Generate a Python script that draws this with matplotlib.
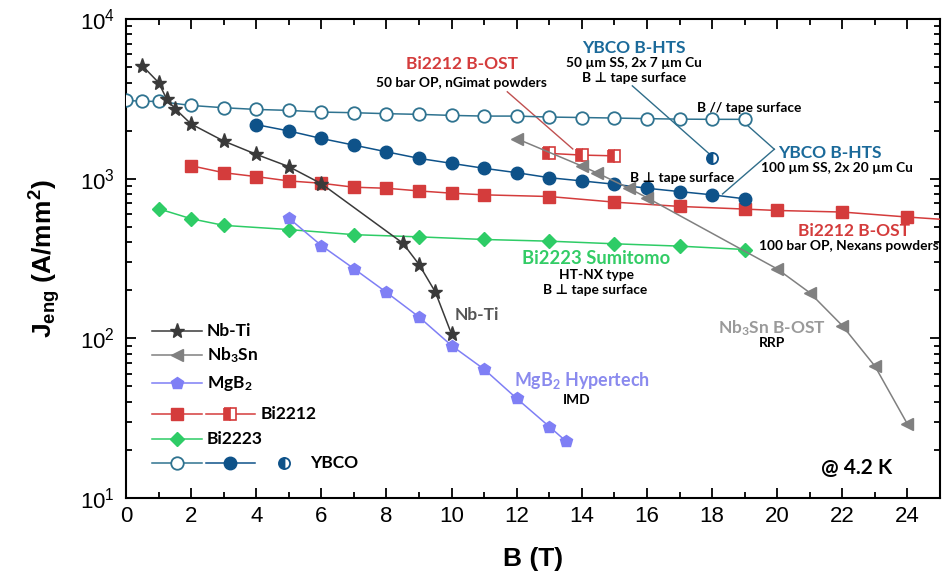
import math
import matplotlib
matplotlib.use("Agg")
import matplotlib.pyplot as plt
import matplotlib.ticker as mticker
from matplotlib.font_manager import fontManager

plt.rcParams['font.family'] = ['Lato', 'DejaVu Sans']
plt.rcParams['font.weight'] = 'bold'
plt.rcParams['mathtext.fontset'] = 'custom'
plt.rcParams['mathtext.rm'] = 'Lato:bold'
plt.rcParams['mathtext.it'] = 'Lato:bold'
plt.rcParams['mathtext.bf'] = 'Lato:bold'

names = {f.name for f in fontManager.ttflist}
tick_font = 'Liberation Sans Narrow' if 'Liberation Sans Narrow' in names else 'Liberation Sans'

# ---------------- data ----------------
nbti_B = [0.5, 1, 1.25, 1.5, 2, 3, 4, 5, 6, 8.5, 9, 9.5, 10]
nbti_J = [5100, 4000, 3150, 2750, 2200, 1720, 1420, 1190, 930, 395, 290, 195, 106]

nb3sn_B = [12, 14, 14.45, 15.45, 16, 20, 21, 22, 23, 24]
nb3sn_J = [1780, 1200, 1090, 870, 760, 272, 193, 120, 67, 29]

mgb2_B = [5, 6, 7, 8, 9, 10, 11, 12, 13, 13.5]
mgb2_J = [566, 381, 273, 194, 136, 90, 64, 42, 28, 22.8]

bi2212_B = [2, 3, 4, 5, 6, 7, 8, 9, 10, 11, 13, 15, 17, 19, 20, 22, 24, 26]
bi2212_J = [1205, 1090, 1030, 968, 936, 884, 871, 838, 811, 792, 773, 713, 670,
            645, 632, 618, 575, 540]

bi2212b_B = [13, 14, 15]
bi2212b_J = [1440, 1405, 1390]

bi2223_B = [1, 2, 3, 5, 7, 9, 11, 13, 15, 17, 19]
bi2223_J = [648, 561, 510, 480, 446, 432, 416, 406, 391, 378, 360]

ybco_par_B = [0, 0.5, 1, 2, 3, 4, 5, 6, 7, 8, 9, 10, 11, 12, 13, 14, 15, 16, 17, 18, 19]
ybco_par_J = [3090, 3055, 3046, 2874, 2782, 2714, 2677, 2612, 2589, 2553, 2528,
              2490, 2466, 2466, 2432, 2415, 2397, 2377, 2360, 2353, 2353]

ybco_perp_B = [4, 5, 6, 7, 8, 9, 10, 11, 12, 13, 14, 15, 16, 17, 18, 19]
ybco_perp_J = [2180, 1990, 1785, 1622, 1473, 1340, 1247, 1161, 1090, 1014, 968,
               923, 871, 830, 792, 748]

ybco_thin_B = [18]
ybco_thin_J = [1340]

# colours
c_nbti = '#3a3a3a'
c_nb3sn = '#808080'
c_mgb2 = '#7f7ff5'
c_bi2212 = '#d43c3c'
c_bi2223 = '#2ecc66'
c_ybco = '#0e5289'
c_ybco_line = '#2f7390'

fig = plt.figure(figsize=(9.46, 5.83), dpi=100)
ax = fig.add_axes([0.1332, 0.1458, 0.8605, 0.8216])

lw = 1.1
ax.plot(nbti_B, nbti_J, '-', color=c_nbti, lw=lw, marker='*', ms=11, mfc=c_nbti, mec=c_nbti, zorder=5)
ax.plot(nb3sn_B, nb3sn_J, '-', color=c_nb3sn, lw=lw, marker='<', ms=9, mfc=c_nb3sn, mec=c_nb3sn, zorder=4)
ax.plot(mgb2_B, mgb2_J, '-', color=c_mgb2, lw=lw, marker='p', ms=9, mfc=c_mgb2, mec=c_mgb2, zorder=4)
ax.plot(bi2212_B, bi2212_J, '-', color=c_bi2212, lw=lw, marker='s', ms=8, mfc=c_bi2212, mec=c_bi2212, zorder=3)
ax.plot(bi2212b_B, bi2212b_J, '-', color=c_bi2212, lw=lw, marker='s', ms=8, mfc=c_bi2212,
        mec=c_bi2212, fillstyle='left', markerfacecoloralt='white', mew=1.2, zorder=3)
ax.plot(bi2223_B, bi2223_J, '-', color=c_bi2223, lw=lw, marker='D', ms=7.5, mfc=c_bi2223, mec=c_bi2223, zorder=3)
ax.plot(ybco_par_B, ybco_par_J, '-', color=c_ybco_line, lw=lw, marker='o', ms=9, mfc='white',
        mec=c_ybco_line, mew=1.3, zorder=3)
ax.plot(ybco_perp_B, ybco_perp_J, '-', color=c_ybco, lw=lw, marker='o', ms=9, mfc=c_ybco, mec=c_ybco, zorder=3)
ax.plot(ybco_thin_B, ybco_thin_J, 'none', marker='o', ms=8, mfc=c_ybco, mec=c_ybco,
        fillstyle='left', markerfacecoloralt='white', mew=1.3, zorder=3)

ax.set_yscale('log')
ax.set_xlim(0, 25)
ax.set_ylim(10, 10000)

ax.xaxis.set_major_locator(mticker.MultipleLocator(2))
ax.xaxis.set_minor_locator(mticker.MultipleLocator(1))
ax.yaxis.set_major_locator(mticker.LogLocator(base=10, numticks=10))
ax.yaxis.set_minor_locator(mticker.LogLocator(base=10, subs=range(2, 10), numticks=20))
ax.yaxis.set_major_formatter(mticker.FuncFormatter(lambda v, p: r'$\mathregular{10^{%d}}$' % round(math.log10(v))))
ax.yaxis.set_minor_formatter(mticker.NullFormatter())
ax.tick_params(which='both', direction='in', top=True, right=True, width=1.3)
ax.tick_params(which='major', length=7)
ax.tick_params(axis='x', which='major', pad=6)
ax.tick_params(axis='y', which='major', pad=8)
ax.tick_params(which='minor', length=4)
for lab in ax.get_xticklabels():
    lab.set_fontfamily(tick_font)
    lab.set_fontweight('normal')
    lab.set_fontsize(16)
for lab in ax.get_yticklabels():
    lab.set_fontfamily('Liberation Sans')
    lab.set_fontweight('normal')
    lab.set_fontsize(16)
for s in ax.spines.values():
    s.set_linewidth(1.5)

ax.set_xlabel('B (T)', fontsize=19, fontweight='bold', labelpad=14, family=['Liberation Sans Narrow', 'Liberation Sans'])
ax.set_ylabel(r'J$_{\mathregular{eng}}$ (A/mm$^{\mathregular{2}}$)', fontsize=19, fontweight='bold',
              labelpad=12, family=['Liberation Sans', 'DejaVu Sans'])

# ---------------- annotations ----------------
big = 12.5
small = 9.9

def txt(x, y, s, color='black', size=small, ha='center'):
    ax.text(x, y, s, color=color, fontsize=size, fontweight='bold', ha=ha, va='center',
            family=['Lato', 'DejaVu Sans'])

txt(10.31, 5236, 'Bi2212 B-OST', c_bi2212, big)
txt(10.31, 3981, '50 bar OP, nGimat powders')
txt(15.61, 6592, 'YBCO B-HTS', '#1b6a9a', big)
txt(15.61, 5309, '50 µm SS, 2x 7 µm Cu')
txt(15.61, 4276, 'B ⊥ tape surface')
txt(19.14, 2780, 'B // tape surface')
txt(21.6, 1454, 'YBCO B-HTS', '#1b6a9a', big)
txt(21.84, 1172, '100 µm SS, 2x 20 µm Cu')
txt(17.09, 1014, 'B ⊥ tape surface')
txt(22.36, 473, 'Bi2212 B-OST', c_bi2212, big)
txt(24.97, 381, '100 bar OP, Nexans powders', ha='right')
txt(14.45, 316, 'Bi2223 Sumitomo', '#33cc66', 13.2)
txt(14.45, 251, 'HT-NX type')
txt(14.4, 202, 'B ⊥ tape surface')
txt(10.77, 139, 'Nb-Ti', '#555555', big)
txt(19.85, 115, r'Nb$\mathregular{_3}$Sn B-OST', '#9a9a9a', big)
txt(19.85, 93, 'RRP')
txt(13.99, 54.6, r'MgB$\mathregular{_2}$ Hypertech', '#8a8aee', 12.9)
txt(13.83, 41, 'IMD')
txt(22.45, 15.4, '@ 4.2 K', 'black', 15)

ann_lines = [
    ([11.71, 13.72], [3500, 1535], '#c05050'),
    ([15.55, 17.91], [3813, 1432], '#2f6d8a'),
    ([19.04, 19.91], [2198, 1529], '#2f6d8a'),
    ([19.91, 18.32], [1529, 802], '#2f6d8a'),
]
for xs, ys, c in ann_lines:
    ax.plot(xs, ys, '-', color=c, lw=1.0, zorder=2)

# ---------------- legend (manual) ----------------
T = ax.transAxes
rows = [0.348, 0.298, 0.240, 0.175, 0.123, 0.073]
x0, x1, xl = 0.032, 0.093, 0.0995
leg_fs = 12.5

def seg(y, a, b, m, c, line_c, **kw):
    ax.plot([a, b], [y, y], '-', color=line_c, lw=lw, transform=T, clip_on=False)
    ax.plot([(a + b) / 2], [y], linestyle='none', marker=m, color=c, transform=T, clip_on=False, **kw)

def ltxt(x, y, s):
    ax.text(x, y, s, transform=T, fontsize=leg_fs, fontweight='bold', va='center', ha='left')

seg(rows[0], x0, x1, '*', c_nbti, c_nbti, ms=11)
ltxt(xl, rows[0], 'Nb-Ti')
seg(rows[1], x0, x1, '<', c_nb3sn, c_nb3sn, ms=9)
ltxt(xl, rows[1], r'Nb$\mathregular{_3}$Sn')
seg(rows[2], x0, x1, 'p', c_mgb2, c_mgb2, ms=9)
ltxt(xl, rows[2], r'MgB$\mathregular{_2}$')
seg(rows[3], x0, x1, 's', c_bi2212, c_bi2212, ms=8)
seg(rows[3], 0.098, 0.158, 's', c_bi2212, c_bi2212, ms=8, fillstyle='left',
    markerfacecoloralt='white', mew=1.2)
ltxt(0.165, rows[3], 'Bi2212')
seg(rows[4], x0, x1, 'D', c_bi2223, c_bi2223, ms=7.5)
ltxt(xl, rows[4], 'Bi2223')
seg(rows[5], x0, x1, 'o', c_ybco_line, c_ybco_line, ms=9, mfc='white', mew=1.3)
seg(rows[5], 0.098, 0.158, 'o', c_ybco, c_ybco, ms=9)
ax.plot([0.194], [rows[5]], linestyle='none', marker='o', ms=8, color=c_ybco, fillstyle='left',
        markerfacecoloralt='white', mew=1.3, transform=T, clip_on=False)
ltxt(0.226, rows[5], 'YBCO')

fig.savefig('out.png', dpi=100)
